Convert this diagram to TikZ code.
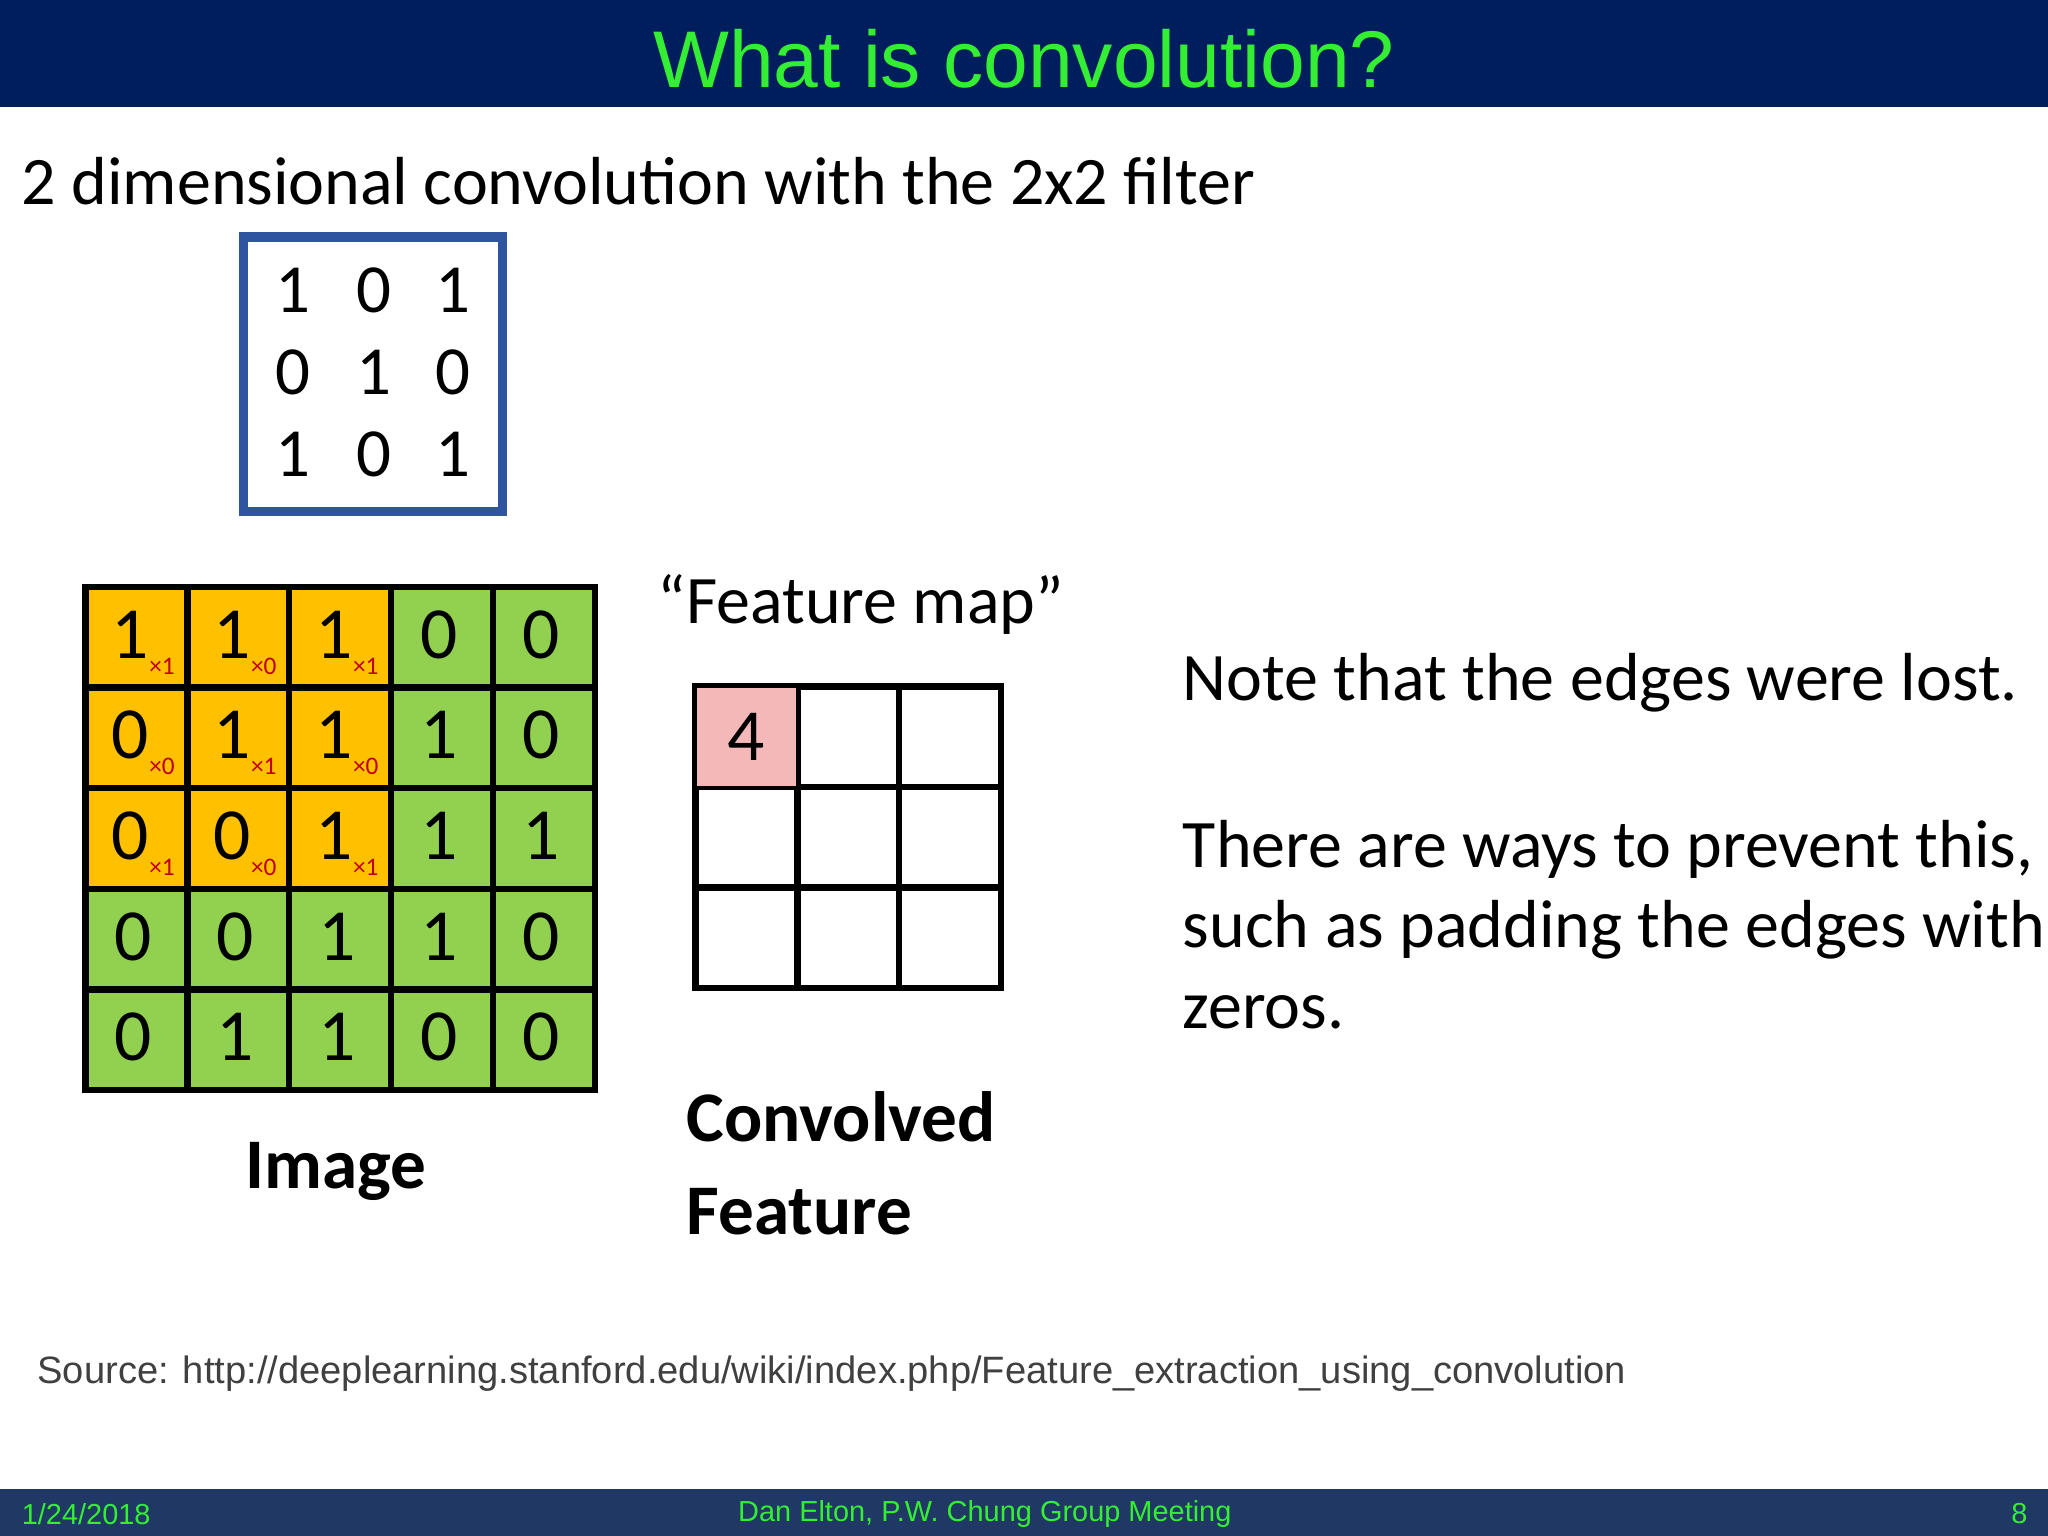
\documentclass[tikz,border=0pt]{standalone}
\usepackage{fontspec}
\setmainfont{Carlito}
\newfontfamily\arialf{Liberation Sans}
\definecolor{navy}{HTML}{001E5E}
\definecolor{footbl}{HTML}{1F3864}
\definecolor{tgreen}{HTML}{33EE33}
\definecolor{orng}{HTML}{FFC000}
\definecolor{grn}{HTML}{92D050}
\definecolor{pnk}{HTML}{F4B8B8}
\definecolor{fblue}{HTML}{2F55A0}
\definecolor{redl}{HTML}{C00000}
\tikzset{
 cell/.style={draw=black,line width=1.4pt,minimum width=0.78cm,minimum height=0.77cm,inner sep=0pt,anchor=north west},
 dig/.style={font=\fontsize{16pt}{18pt}\selectfont},
 sub/.style={font=\fontsize{5.5pt}{6pt}\selectfont,text=redl,inner sep=0pt},
 body/.style={font=\fontsize{14.8pt}{17.6pt}\selectfont,anchor=west,inner sep=0pt}
}
\begin{document}
\begin{tikzpicture}[x=0.01cm,y=-0.01cm]
\useasboundingbox (0,0) rectangle (1568,1176);
\fill[navy] (0,0) rectangle (1568,82);
\node[font=\arialf\fontsize{17.5pt}{20pt}\selectfont,text=tgreen] (title) at (784,45) {What is convolution?};
\fill[footbl] (0,1140) rectangle (1568,1176);
\node[font=\arialf\fontsize{6.3pt}{7pt}\selectfont,text=tgreen,anchor=west,inner sep=0pt] (date) at (16,1159) {1/24/2018};
\node[font=\arialf\fontsize{6.3pt}{7pt}\selectfont,text=tgreen] (auth) at (754,1159) {Dan Elton, P.W. Chung Group Meeting};
\node[font=\arialf\fontsize{6.3pt}{7pt}\selectfont,text=tgreen,anchor=east,inner sep=0pt] (pg) at (1553,1159) {8};
\node[body] (sub) at (16,139) {2 dimensional convolution with the 2x2 filter};
\node[draw=fblue,line width=2pt,minimum width=1.98cm,minimum height=2.10cm,anchor=north west] (filt) at (183,178) {};
\foreach \r/\a/\b/\c in {0/1/0/1,1/0/1/0,2/1/0/1}{
 \node[font=\fontsize{15pt}{18pt}\selectfont] (f\r a) at (224,222+63*\r) {\a};
 \node[font=\fontsize{15pt}{18pt}\selectfont] (f\r b) at (286,222+63*\r) {\b};
 \node[font=\fontsize{15pt}{18pt}\selectfont] (f\r c) at (347,222+63*\r) {\c};
}
\foreach \row [count=\r from 0] in {{1,1,1,0,0},{0,1,1,1,0},{0,0,1,1,1},{0,0,1,1,0},{0,1,1,0,0}}{
 \foreach \v [count=\c from 0] in \row {
  \pgfmathtruncatemacro{\isor}{(\r<3)&&(\c<3)}
  \ifnum\isor=1 \def\fc{orng}\else\def\fc{grn}\fi
  \node[cell,fill=\fc] (g\r\c) at (63+78*\c,447+77*\r) {};
  \ifnum\isor=1
   \node[dig] (d\r\c) at (100+78*\c,486+77*\r) {\v};
  \else
   \node[dig] (d\r\c) at (102+78*\c,486+77*\r) {\v};
  \fi
 }
}
\foreach \w [count=\i from 0] in {1,0,1,0,1,0,1,0,1}{
 \pgfmathtruncatemacro{\rr}{int(\i/3)}
 \pgfmathtruncatemacro{\cc}{mod(\i,3)}
 \node[sub] (s\i) at (124+78*\cc,510+77*\rr) {×\w};
}
\node[font=\bfseries\fontsize{15.5pt}{19pt}\selectfont] (img) at (257,897) {Image};
\node[body] (fm) at (503,463) {``Feature map''};
\foreach \r in {0,1,2}{\foreach \c in {0,1,2}{
 \node[cell] (m\r\c) at (530+78*\c,523+77*\r) {};
}}
\fill[pnk] ([shift={(1pt,-1pt)}]m00.north west) rectangle ([shift={(-1pt,1pt)}]m00.south east);
\node[dig] (four) at (m00) {4};
\node[font=\bfseries\fontsize{15.5pt}{20.2pt}\selectfont,align=left,anchor=north west,inner sep=0pt] (cf) at (525,835) {Convolved\\Feature};
\node[body] (n1) at (905,523) {Note that the edges were lost.};
\node[body,anchor=north west,align=left] (n2) at (905,627) {There are ways to prevent this,\\such as padding the edges with\\zeros.};
\node[font=\arialf\fontsize{8.3pt}{10pt}\selectfont,text=black!75,anchor=west,inner sep=0pt] (src) at (28,1052) {Source: http://deeplearning.stanford.edu/wiki/index.php/Feature\_extraction\_using\_convolution};
\end{tikzpicture}
\end{document}
